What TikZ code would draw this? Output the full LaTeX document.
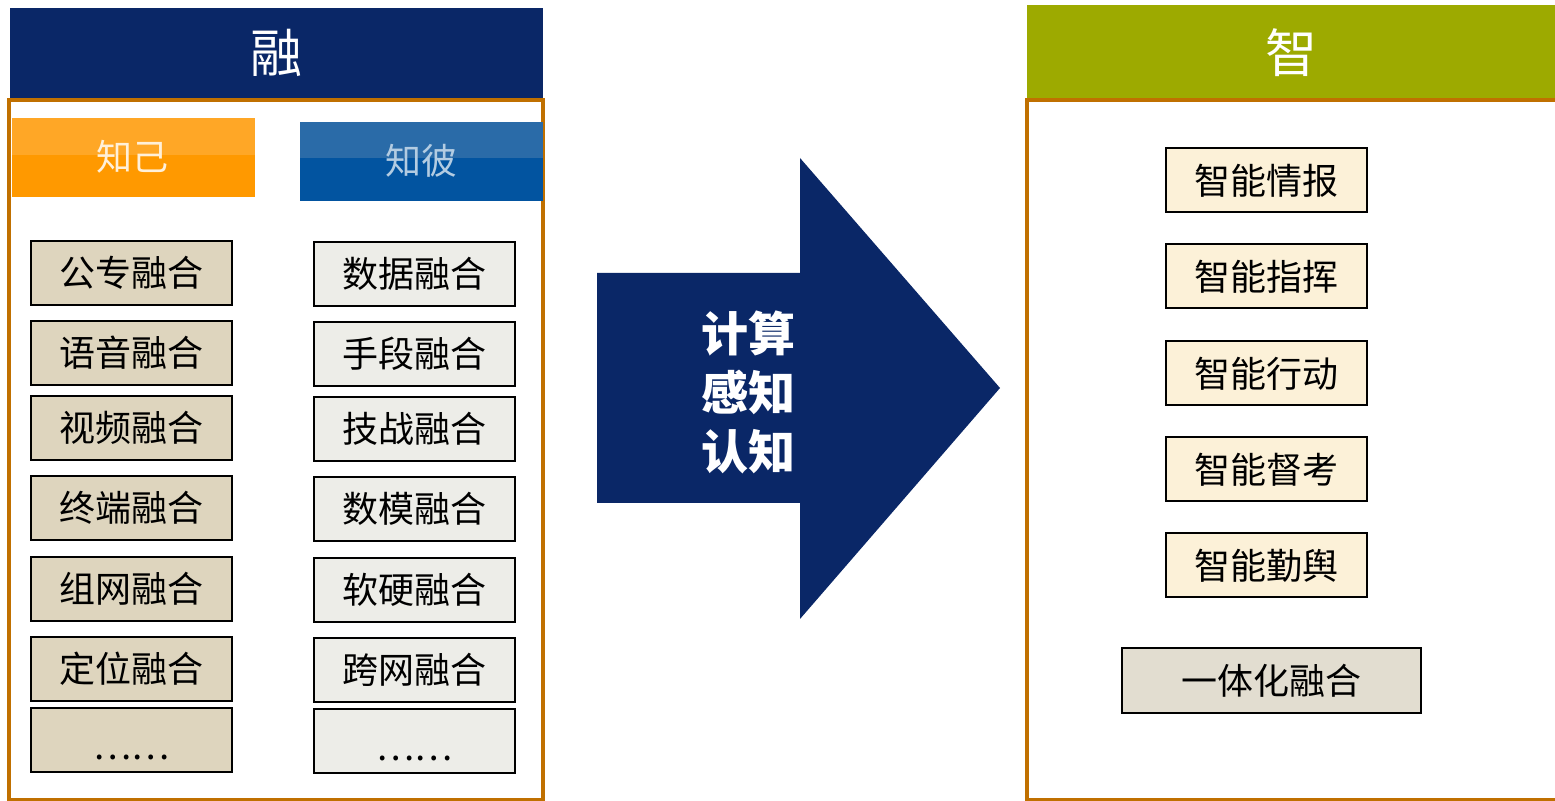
\documentclass[tikz,border=0pt]{standalone}
\usepackage{fontspec}
\setmainfont{Noto Sans CJK SC}
\newfontfamily\cjk{Noto Sans CJK SC}
\definecolor{navy}{HTML}{0A2767}
\definecolor{frameor}{HTML}{C07000}
\definecolor{olive}{HTML}{9DAA00}
\definecolor{orA}{HTML}{FFA726}
\definecolor{orB}{HTML}{FF9900}
\definecolor{blA}{HTML}{2A6BA8}
\definecolor{blB}{HTML}{0254A0}
\definecolor{beige}{HTML}{DED5BE}
\definecolor{greyish}{HTML}{EDEDE8}
\definecolor{cream}{HTML}{FCF1D8}
\definecolor{stone}{HTML}{E2DDD0}
\begin{document}
\begin{tikzpicture}[x=0.5pt,y=-0.5pt,
  txt/.style={font=\cjk\fontsize{18}{18}\selectfont, text=black},
  cbox/.style={txt, draw=black, line width=1pt, minimum width=100.5pt, minimum height=32pt, inner sep=0pt},
  lbox/.style={cbox, fill=beige},
  rbox/.style={cbox, fill=greyish},
  zbox/.style={cbox, fill=cream},
  dots/.style={text height=15pt, text depth=15pt},
  header/.style={font=\cjk\fontsize{26}{26}\selectfont, text=white, inner sep=0pt},
  frame/.style={draw=frameor, line width=2pt}
]
\useasboundingbox (0,0) rectangle (1555,801);
% headers
\node[header, fill=navy, minimum width=266.5pt, minimum height=45pt] (hl) at (276.5,53) {融};
\node[header, fill=olive, minimum width=264pt, minimum height=47.5pt] (hr) at (1291,52.5) {智};
% frames
\draw[frame] (9,100) rectangle (543,800);
\draw[frame] (1027,100) rectangle (1570,800);
% 知己 / 知彼
\fill[orB] (12,118) rectangle (255,197);
\fill[orA] (12,118) rectangle (255,155);
\node[txt, text=white!85!orB] (zj) at (133,157) {知己};
\fill[blB] (300,122) rectangle (543,201);
\fill[blA] (300,122) rectangle (543,158);
\node[txt, text=white!70!blB] (zb) at (421,161) {知彼};
% left column
\node[lbox] (l1) at (131.5,273) {公专融合};
\node[lbox] (l2) at (131.5,353) {语音融合};
\node[lbox] (l3) at (131.5,428) {视频融合};
\node[lbox] (l4) at (131.5,508) {终端融合};
\node[lbox] (l5) at (131.5,589) {组网融合};
\node[lbox] (l6) at (131.5,669) {定位融合};
\node[lbox, dots] (l7) at (131.5,740.5) {\raisebox{-9.5pt}{……}};
% right column
\node[rbox] (r1) at (414.5,274) {数据融合};
\node[rbox] (r2) at (414.5,354) {手段融合};
\node[rbox] (r3) at (414.5,429) {技战融合};
\node[rbox] (r4) at (414.5,509) {数模融合};
\node[rbox] (r5) at (414.5,590) {软硬融合};
\node[rbox] (r6) at (414.5,670) {跨网融合};
\node[rbox, dots] (r7) at (414.5,741.5) {\raisebox{-9.5pt}{……}};
% arrow
\fill[navy] (597,273) -- (800,273) -- (800,158) -- (1000,388) -- (800,619) -- (800,503) -- (597,503) -- cycle;
\node[font=\cjk\bfseries\fontsize{23.5}{29.5}\selectfont, text=white, align=center] (arr) at (748,392) {计算\\感知\\认知};
% right boxes
\node[zbox] (z1) at (1266.5,180.5) {智能情报};
\node[zbox] (z2) at (1266.5,276.5) {智能指挥};
\node[zbox] (z3) at (1266.5,373.5) {智能行动};
\node[zbox] (z4) at (1266.5,469.5) {智能督考};
\node[zbox] (z5) at (1266.5,565.5) {智能勤舆};
\node[cbox, fill=stone, minimum width=149.5pt, minimum height=32.5pt] (z6) at (1271.5,680.5) {一体化融合};
\end{tikzpicture}
\end{document}
